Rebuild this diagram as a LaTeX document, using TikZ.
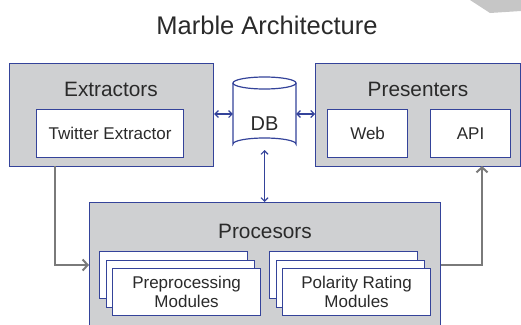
\documentclass[tikz,border=0pt]{standalone}
\usepackage{fontspec}
\setmainfont{Liberation Sans}
\usetikzlibrary{arrows.meta,positioning}
\definecolor{frame}{HTML}{34439A}
\definecolor{panel}{HTML}{CFD0D2}
\definecolor{ink}{HTML}{2A2A2A}
\definecolor{flow}{HTML}{7A7A7A}
\definecolor{corner}{HTML}{C6C6C6}
\tikzset{
  group/.style={draw=frame, fill=panel, line width=1.2pt, anchor=north west, inner sep=0pt},
  unit/.style={draw=frame, fill=white, line width=1.2pt, anchor=north west, inner sep=0pt,
               text=ink, font=\fontsize{17}{19}\selectfont, align=center},
  heading/.style={text=ink, font=\fontsize{20.8}{24}\selectfont},
  dblink/.style={draw=frame, line width=1.1pt, {Straight Barb[length=3.5pt,width=7pt]}-{Straight Barb[length=3.5pt,width=7pt]}},
  datalink/.style={draw=flow, line width=2pt, -{Straight Barb[length=5pt,width=11pt]}},
}
\begin{document}
\begin{tikzpicture}[x=1pt,y=-1pt]
\useasboundingbox (0,0) rectangle (521,324);
% slide corner ornament
\fill[corner] (470,0) -- (490,13) -- (521,11) -- (521,0) -- cycle;

% title
\node[text=ink, font=\fontsize{25.5}{30}\selectfont] (title) at (267,25) {Marble Architecture};

% Extractors group
\node[group, minimum width=204pt, minimum height=103pt] (ext) at (9,63) {};
\node[heading] (extlabel) at (111,89) {Extractors};
\node[unit, minimum width=147pt, minimum height=48pt] (twitter) at (36,109) {Twitter Extractor};

% Presenters group
\node[group, minimum width=205pt, minimum height=103pt] (pres) at (315,63) {};
\node[heading] (preslabel) at (418,89) {Presenters};
\node[unit, minimum width=80pt, minimum height=48pt] (web) at (327,109) {Web};
\node[unit, minimum width=80pt, minimum height=48pt] (api) at (430,109) {API};

% database cylinder
\draw[frame, line width=1.2pt, fill=white] (233,83) -- (233,144) arc[start angle=180, end angle=360, x radius=31.5, y radius=6] -- (296,83);
\draw[frame, line width=1.2pt, fill=white] (264.5,83) ellipse[x radius=31.5, y radius=6];
\node[minimum width=63pt, minimum height=73pt, inner sep=0pt] (db) at (264.5,113.5) {};
\node[text=ink, font=\fontsize{20}{24}\selectfont] (dblabel) at (264.5,124) {DB};

% Procesors group
\node[group, minimum width=351pt, minimum height=130pt] (proc) at (89,202) {};
\node[heading] (proclabel) at (265,231) {Procesors};

% preprocessing module stack
\node[unit, minimum width=148pt, minimum height=47pt] (pre3) at (99,251) {};
\node[unit, minimum width=148pt, minimum height=47pt] (pre2) at (105.5,259.5) {};
\node[unit, minimum width=148pt, minimum height=47pt] (pre1) at (112,268) {Preprocessing\\Modules};

% polarity rating module stack
\node[unit, minimum width=148pt, minimum height=47pt] (pol3) at (269,251) {};
\node[unit, minimum width=148pt, minimum height=47pt] (pol2) at (275.5,259.5) {};
\node[unit, minimum width=148pt, minimum height=47pt] (pol1) at (282,268) {Polarity Rating\\Modules};

% database links
\draw[dblink] (ext.east |- 0,114) -- (db.west |- 0,114);
\draw[dblink] (db.east |- 0,114) -- (pres.west |- 0,114);
\draw[dblink] (264.5,150) -- (proc.north -| 264.5,0);

% data flow
\coordinate (extout) at (55,166);
\coordinate (presin) at (482,166);
\draw[datalink] (extout) |- (proc.west |- 0,265);
\draw[datalink] (proc.east |- 0,265) -| (presin);
\end{tikzpicture}
\end{document}
